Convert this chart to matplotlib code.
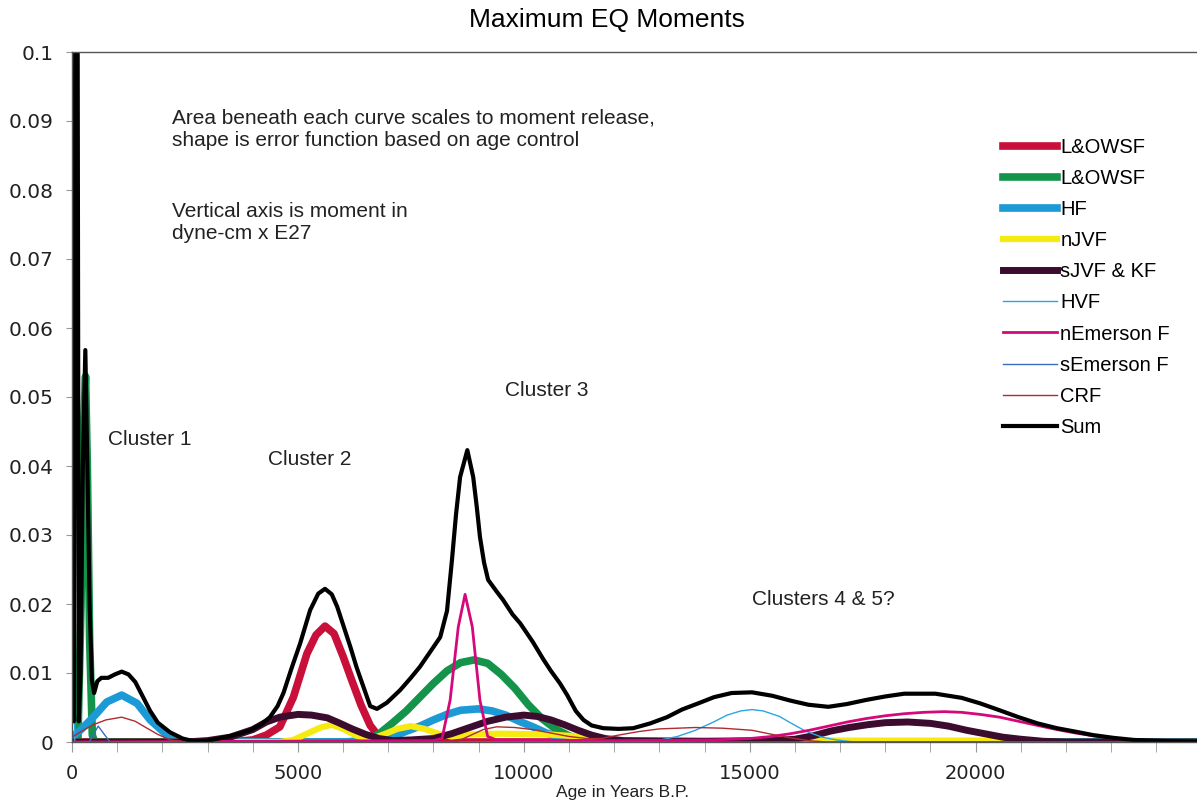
import matplotlib
matplotlib.use("Agg")
import matplotlib.pyplot as plt
from matplotlib.ticker import FuncFormatter, MultipleLocator

plt.rcParams['font.family'] = ['Liberation Sans', 'DejaVu Sans']

# valores (edad en años B.P., momento en dyne-cm x E27)
red_age = [0, 3500, 4000, 4300, 4600, 4900, 5200, 5400, 5600, 5800, 6000, 6200, 6400, 6600, 6800, 7000, 24900]
red_val = [0, 0, 0.0003, 0.001, 0.0022, 0.0065, 0.0128, 0.0155, 0.0168, 0.0157, 0.0124, 0.0088, 0.0053, 0.0024, 0.0007, 0, 0]

green_age = [0, 130, 200, 250, 300, 340, 390, 450, 500, 6500, 6800, 7100, 7400, 7700, 8000, 8300, 8600, 8900,
             9200, 9500, 9800, 10100, 10400, 10700, 11000, 11300, 11500, 24900]
green_val = [0, 0, 0.02, 0.045, 0.053, 0.04, 0.015, 0.001, 0, 0, 0.0012, 0.0028, 0.0045, 0.0065, 0.0085, 0.0103,
             0.0115, 0.0119, 0.0114, 0.0098, 0.0078, 0.0054, 0.0034, 0.0019, 0.0009, 0.0002, 0, 0]

hf_age = [0, 200, 470, 770, 1100, 1440, 1730, 2100, 2400, 6000, 6500, 7000, 7300, 7700, 8000, 8300, 8600, 9000,
          9300, 9600, 9900, 10200, 10500, 10800, 11100, 11400, 24900]
hf_val = [0.0007, 0.0018, 0.0036, 0.0058, 0.0068, 0.0056, 0.0032, 0.001, 0, 0, 0.0002, 0.0008, 0.0013, 0.0023,
          0.0032, 0.004, 0.0046, 0.0048, 0.0045, 0.0039, 0.003, 0.0022, 0.0013, 0.0007, 0.0002, 0, 0]

njvf_age = [0, 4600, 4900, 5200, 5500, 5750, 6000, 6300, 6600, 6900, 7200, 7500, 7800, 8100, 8400, 8800, 9500,
            10500, 11000, 11500, 12000, 21300, 21600, 24900]
njvf_val = [0, 0, 0.0003, 0.0012, 0.0021, 0.0025, 0.0019, 0.0009, 0.0004, 0.0011, 0.0019, 0.0023, 0.0019, 0.0012,
            0.0008, 0.0011, 0.0012, 0.0011, 0.0009, 0.0004, 0.0002, 0.0002, 0, 0]

sjvf_age = [0, 2500, 3000, 3500, 4000, 4300, 4600, 5000, 5300, 5650, 5900, 6200, 6500, 6800, 7100, 7500, 8000,
            8400, 8800, 9200, 9600, 10000, 10300, 10600, 10900, 11200, 11500, 11800, 12200, 14000, 15500, 16000,
            16400, 16800, 17200, 17600, 18000, 18500, 19000, 19400, 19800, 20200, 20600, 21000, 21500, 22000, 24900]
sjvf_val = [0, 0, 0.0002, 0.0007, 0.0018, 0.0029, 0.0036, 0.004, 0.0039, 0.0035, 0.0028, 0.0019, 0.0011, 0.0005,
            0.0002, 0.0003, 0.0005, 0.0012, 0.0021, 0.003, 0.0036, 0.0039, 0.0037, 0.0032, 0.0025, 0.0017, 0.001,
            0.0005, 0.0002, 0.0001, 0.0002, 0.0004, 0.0009, 0.0016, 0.0021, 0.0025, 0.0028, 0.0029, 0.0027, 0.0023,
            0.0017, 0.0012, 0.0007, 0.0004, 0.0001, 0, 0]

hvf_age = [0, 25, 60, 12500, 12950, 13400, 13800, 14200, 14500, 14800, 15050, 15300, 15660, 15950, 16230, 16600,
           16920, 17300, 24900]
hvf_val = [0, 0.084, 0, 0, 0.0002, 0.0008, 0.0017, 0.0029, 0.0039, 0.0045, 0.0047, 0.0045, 0.0037, 0.0026, 0.0016,
           0.0007, 0.0003, 0, 0]

nem_age = [0, 8000, 8190, 8370, 8550, 8700, 8860, 9030, 9200, 9400, 12000, 14200, 15000, 15480, 15900, 16320,
           16740, 17160, 17580, 18000, 18420, 18850, 19300, 19690, 20100, 20530, 20950, 21370, 21800, 22210, 22600,
           23050, 23500, 24000, 24900]
nem_val = [0, 0.0002, 0.0005, 0.0061, 0.0167, 0.0214, 0.0167, 0.006, 0.0008, 0.0003, 0.0002, 0.0003, 0.0005,
           0.0008, 0.0012, 0.0017, 0.0023, 0.0029, 0.0034, 0.0038, 0.0041, 0.0043, 0.0044, 0.0043, 0.004, 0.0036,
           0.003, 0.0024, 0.0018, 0.0013, 0.0009, 0.0005, 0.0002, 0.0001, 0]

sem_age = [0, 380, 580, 840, 24900]
sem_val = [0, 0, 0.0023, 0, 0]

crf_age = [0, 250, 470, 750, 1100, 1400, 1660, 1900, 2170, 2500, 8500, 8800, 9100, 9400, 9800, 10200, 10600,
           11000, 11400, 11700, 12100, 12530, 13000, 13800, 14400, 15050, 15500, 15900, 16300, 16700, 24900]
crf_val = [0.0007, 0.0017, 0.0025, 0.0032, 0.0036, 0.003, 0.002, 0.0011, 0.0003, 0, 0, 0.0009, 0.0018, 0.0022,
           0.0021, 0.0018, 0.0013, 0.0008, 0.0005, 0.0005, 0.001, 0.0015, 0.0019, 0.0021, 0.002, 0.0017, 0.0011,
           0.0006, 0.0002, 0, 0]

sum_age = [0, 40, 100, 150, 190, 240, 295, 340, 390, 440, 490, 560, 650, 800, 950, 1100, 1250, 1400, 1550, 1730,
           1900, 2170, 2450, 2700, 3000, 3400, 3700, 3940, 4200, 4380, 4550, 4680, 4850, 5050, 5270, 5450, 5600,
           5750, 5870, 6000, 6160, 6300, 6450, 6600, 6750, 6970, 7260, 7500, 7700, 7900, 8150, 8300, 8410, 8500,
           8590, 8750, 8880, 8960, 9030, 9120, 9210, 9400, 9540, 9750, 9920, 10200, 10430, 10600, 10800, 10960,
           11150, 11320, 11500, 11760, 12100, 12420, 12800, 13170, 13500, 13900, 14210, 14600, 15050, 15500,
           15900, 16300, 16740, 17150, 17580, 18000, 18420, 19110, 19690, 20100, 20530, 20950, 21370, 21800,
           22210, 22600, 23050, 23500, 23890, 24900]
sum_val = [0.003, 0.003, 0.2, 0.003, 0.01, 0.04, 0.0568, 0.04, 0.02, 0.009, 0.0071, 0.0088, 0.0093, 0.0093,
           0.0098, 0.0102, 0.0098, 0.0087, 0.0068, 0.0045, 0.0028, 0.0014, 0.0005, 0.0001, 0.0002, 0.0007, 0.0012,
           0.0017, 0.0026, 0.0036, 0.0052, 0.0071, 0.0105, 0.0143, 0.0191, 0.0215, 0.0222, 0.0214, 0.0196, 0.017,
           0.0138, 0.0108, 0.008, 0.0052, 0.0048, 0.0057, 0.0075, 0.0093, 0.0109, 0.0128, 0.0152, 0.019, 0.0264,
           0.033, 0.0384, 0.0423, 0.0384, 0.034, 0.0297, 0.026, 0.0235, 0.0218, 0.0206, 0.0185, 0.0172, 0.0145,
           0.012, 0.0103, 0.0085, 0.0068, 0.0045, 0.0032, 0.0024, 0.002, 0.0019, 0.002, 0.0027, 0.0036, 0.0047,
           0.0057, 0.0065, 0.0071, 0.0072, 0.0067, 0.006, 0.0054, 0.0051, 0.0055, 0.0061, 0.0066, 0.007, 0.007,
           0.0064, 0.0056, 0.0046, 0.0036, 0.0027, 0.002, 0.0015, 0.001, 0.0006, 0.0003, 0.0002, 0]

series = [
    ("L&OWSF", red_age, red_val, "#c8103a", 5.5),
    ("L&OWSF", green_age, green_val, "#14944a", 5.5),
    ("HF", hf_age, hf_val, "#1c9ad6", 5.5),
    ("nJVF", njvf_age, njvf_val, "#f6ea10", 4.5),
    ("sJVF & KF", sjvf_age, sjvf_val, "#3c0c2e", 5.0),
    ("HVF", hvf_age, hvf_val, "#2aa6e0", 1.0),
    ("nEmerson F", nem_age, nem_val, "#d4087a", 2.0),
    ("sEmerson F", sem_age, sem_val, "#3a6cc0", 1.0),
    ("CRF", crf_age, crf_val, "#b02a30", 1.0),
    ("Sum", sum_age, sum_val, "black", 3.0),
]

y_ticks = [0, 0.01, 0.02, 0.03, 0.04, 0.05, 0.06, 0.07, 0.08, 0.09, 0.1]
x_ticks = [0, 5000, 10000, 15000, 20000]

fig = plt.figure(figsize=(11.97, 8.02), dpi=100)
ax = fig.add_axes([72 / 1197, 1 - 742 / 802, 1 - 72 / 1197, 690 / 802])

for nombre, edades, valores, color, ancho in series:
    ax.plot(edades, valores, color=color, linewidth=ancho, label=nombre, solid_joinstyle="round")

ax.set_xlim(0, 24900)
ax.set_ylim(0, 0.1)
ax.set_xticks(x_ticks)
ax.xaxis.set_minor_locator(MultipleLocator(1000))
ax.set_yticks(y_ticks)
ax.yaxis.set_major_formatter(FuncFormatter(lambda v, p: "{:g}".format(round(v, 2))))

ax.spines["right"].set_visible(False)
for lado in ["left", "top", "bottom"]:
    ax.spines[lado].set_color("#555555")
    ax.spines[lado].set_linewidth(1.0)

ax.tick_params(axis="x", which="both", direction="out", length=7, color="#999999", pad=9,
               labelsize=14, labelcolor="#222222")
ax.tick_params(axis="y", which="both", direction="out", length=4, color="#999999", pad=9,
               labelsize=14.5, labelcolor="#222222")
for lbl in ax.get_xticklabels() + ax.get_yticklabels():
    lbl.set_fontfamily("DejaVu Sans")

fig.text(607 / 1197, 1 - 20 / 802, "Maximum EQ Moments", ha="center", va="center", fontsize=19)
fig.text(623 / 1197, 0.003, "Age in Years B.P.", ha="center", va="bottom", fontsize=12.5, color="#222222")

ax.text(2214, 0.0918, "Area beneath each curve scales to moment release,\nshape is error function based on age control",
        ha="left", va="top", fontsize=15, linespacing=1.2, color="#222222")
ax.text(2214, 0.0783, "Vertical axis is moment in\ndyne-cm x E27",
        ha="left", va="top", fontsize=15, linespacing=1.2, color="#222222")
ax.text(797, 0.0438, "Cluster 1", ha="left", va="center", fontsize=15, color="#222222")
ax.text(4340, 0.041, "Cluster 2", ha="left", va="center", fontsize=15, color="#222222")
ax.text(9590, 0.051, "Cluster 3", ha="left", va="center", fontsize=15, color="#222222")
ax.text(15060, 0.0206, "Clusters 4 & 5?", ha="left", va="center", fontsize=15, color="#222222")

fig.legend(loc="upper left", bbox_to_anchor=(1003 / 1197, 1 - 138 / 802), frameon=False, fontsize=14.5,
           handlelength=2.7, handletextpad=0.15, labelspacing=0.6, borderpad=0, borderaxespad=0)

fig.savefig("out.png", dpi=100)
